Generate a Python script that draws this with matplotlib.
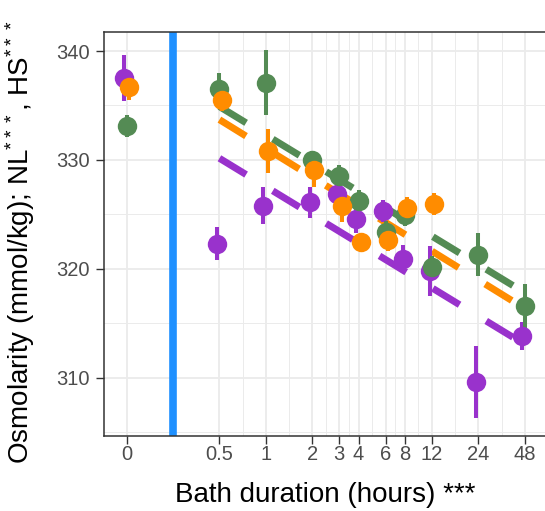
import numpy as np
import matplotlib.pyplot as plt
from matplotlib.ticker import FixedLocator, FixedFormatter, NullFormatter

plt.rcParams["font.family"] = ["Liberation Sans", "DejaVu Sans"]
plt.rcParams["mathtext.default"] = "regular"

# -- data --
hours = [0, 0.5, 1, 2, 3, 4, 6, 8, 12, 24, 48]
tick_labels = ["0", "0.5", "1", "2", "3", "4", "6", "8", "12", "24", "48"]

purple_mean = [337.5, 322.3, 325.8, 326.1, 326.9, 324.6, 325.3, 320.9, 319.8, 309.6, 313.8]
purple_err = [2.1, 1.5, 1.7, 1.4, 1.2, 1.3, 1.0, 1.3, 2.3, 3.3, 1.3]

green_mean = [333.1, 336.5, 337.1, 330.0, 328.5, 326.2, 323.4, 324.9, 320.2, 321.3, 316.6]
green_err = [1.0, 1.5, 3.0, 0.8, 1.0, 1.0, 1.0, 1.0, 1.0, 2.0, 2.0]

orange_mean = [336.7, 335.5, 330.8, 329.1, 325.8, 322.5, 322.6, 325.6, 325.95, np.nan, np.nan]
orange_err = [1.2, 1.0, 2.0, 1.6, 1.5, 0.8, 1.0, 1.0, 1.0, np.nan, np.nan]

# fitted trend lines (end points)
fit_hours = [0.5, 48]
purple_fit = [330.15, 313.05]
orange_fit = [333.7, 316.35]
green_fit = [334.9, 317.8]

PURPLE = "#9932CC"
ORANGE = "#FF8C00"
GREEN = "#548B54"

# 0 h is drawn two doublings left of 0.5 h on the log2 axis
ZERO_POS = 0.125
x_pos = np.array([ZERO_POS if h == 0 else h for h in hours], dtype=float)

fig = plt.figure(figsize=(5.45, 5.11), dpi=100)
ax = fig.add_axes([104 / 545, 75 / 511, 443 / 545, 404 / 511])
ax.set_xscale("log", base=2)

# -- reference line between baseline and bath samples --
ax.axvline(np.sqrt(ZERO_POS * 0.5), color="#1E90FF", lw=5.5, zorder=1.5)

# -- trend lines --
for fit, col in [(purple_fit, PURPLE), (orange_fit, ORANGE), (green_fit, GREEN)]:
    ax.plot(fit_hours, fit, color=col, lw=5, ls=(0, (4.5, 4.5)),
            dash_capstyle="butt", zorder=2)

# -- means with error bars (dodged a little) --
for mean, err, col, dodge in [(purple_mean, purple_err, PURPLE, -0.05),
                              (green_mean, green_err, GREEN, 0.0),
                              (orange_mean, orange_err, ORANGE, 0.05)]:
    ax.errorbar(x_pos * 2 ** dodge, mean, yerr=err, fmt="o", ms=14, mew=0,
                color=col, ecolor=col, elinewidth=2.9, capsize=0, zorder=3)

# -- axes / ticks --
ax.set_xlim(2 ** -3.49, 2 ** 6.066)
ax.set_ylim(304.64, 341.75)
ax.xaxis.set_major_locator(FixedLocator(x_pos))
ax.xaxis.set_major_formatter(FixedFormatter(tick_labels))
minor_x = np.sqrt(x_pos[:-1] * x_pos[1:])
ax.xaxis.set_minor_locator(FixedLocator(minor_x))
ax.xaxis.set_minor_formatter(NullFormatter())
ax.set_yticks([310, 320, 330, 340])
ax.set_yticks([305, 315, 325, 335], minor=True)

ax.tick_params(which="major", length=5.5, width=1.0, color="#333333",
               labelcolor="#4D4D4D", labelsize=14.5)
ax.tick_params(axis="x", which="major", pad=1)
ax.tick_params(axis="y", which="major", pad=4.5)
ax.tick_params(which="minor", length=0)
for sp in ax.spines.values():
    sp.set_color("#333333")
    sp.set_linewidth(1.1)

ax.set_axisbelow(True)
ax.grid(which="major", color="#EBEBEB", lw=1.3)
ax.grid(which="minor", color="#EBEBEB", lw=0.7)

ax.set_xlabel("Bath duration (hours) ***", fontsize=20, va="baseline")
ax.xaxis.set_label_coords(0.5, -0.1626)
ax.set_ylabel("Osmolarity (mmol/kg); NL$^{***}$, HS$^{***}$", fontsize=20,
              ha="left", va="baseline", rotation_mode="anchor")
ax.yaxis.set_label_coords((29 - 104) / 443, (436 - 464) / 404)

fig.savefig("out.png", dpi=100)
plt.close(fig)
